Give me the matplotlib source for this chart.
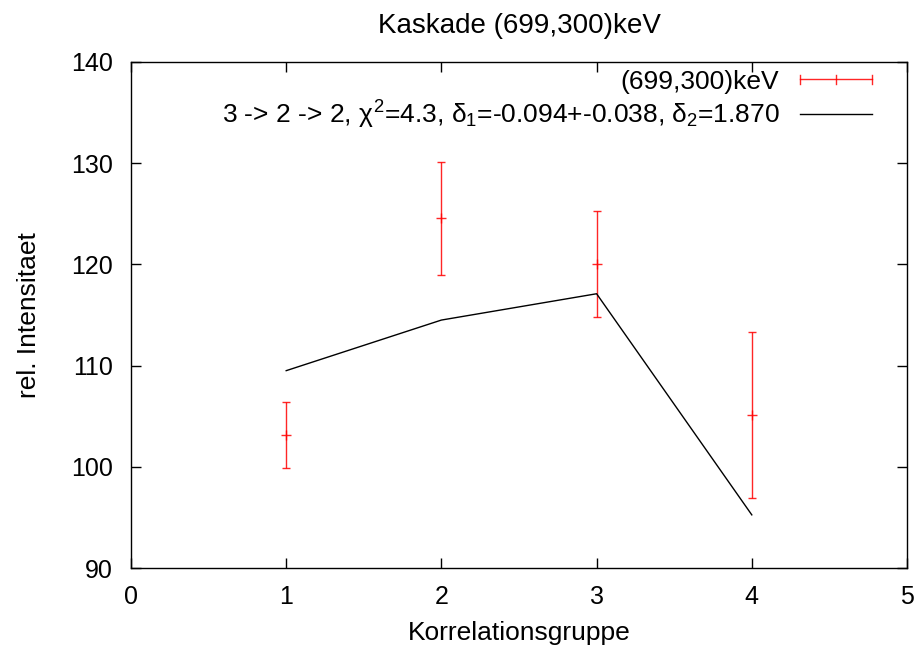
import matplotlib
matplotlib.use("Agg")
import matplotlib.pyplot as plt
from matplotlib.legend_handler import HandlerBase
from matplotlib.lines import Line2D

plt.rcParams['font.family'] = ['Liberation Sans', 'DejaVu Sans']
plt.rcParams['mathtext.fontset'] = 'custom'
plt.rcParams['mathtext.rm'] = 'Liberation Sans'
plt.rcParams['mathtext.it'] = 'Liberation Sans'
plt.rcParams['mathtext.bf'] = 'Liberation Sans'

# data
groups = [1, 2, 3, 4]
intensity = [103.1, 124.6, 120.0, 105.1]
err_low = [99.85, 119.0, 114.8, 96.9]
err_high = [106.4, 130.15, 125.3, 113.3]
fit = [109.5, 114.5, 117.1, 95.25]
xticks = [0, 1, 2, 3, 4, 5]
yticks = [90, 100, 110, 120, 130, 140]

title = "Kaskade (699,300)keV"
label_data = "(699,300)keV"
label_fit = r"3 -> 2 -> 2, $\chi^2$=4.3, $\delta_1$=-0.094+-0.038, $\delta_2$=1.870"

yerr = [[v - lo for v, lo in zip(intensity, err_low)],
        [hi - v for v, hi in zip(intensity, err_high)]]

FS = 19

fig = plt.figure(figsize=(9.17, 6.53), dpi=100)
ax = fig.add_axes([131/917, 1-568/653, (907-131)/917, (568-62)/653])

ax.errorbar(groups, intensity, yerr=yerr, fmt='+', color='red', ecolor='red',
            elinewidth=1, capsize=3, capthick=1, markersize=7, markeredgewidth=1,
            alpha=0.85)
ax.plot(groups, fit, color='black', lw=1)

ax.set_xlim(0, 5)
ax.set_ylim(90, 140)
ax.set_xticks(xticks)
ax.set_yticks(yticks)
ax.tick_params(direction='in', top=True, right=True, length=7, width=1,
               labelsize=18)
ax.tick_params(axis='x', pad=12)
ax.tick_params(axis='y', pad=13)
for s in ax.spines.values():
    s.set_linewidth(1)

ax.set_title(title, fontsize=20, pad=21)
ax.set_xlabel("Korrelationsgruppe", fontsize=FS, labelpad=9)
ax.set_ylabel("rel. Intensitaet", fontsize=FS, labelpad=22)


class ErrKeyHandler(HandlerBase):
    def create_artists(self, legend, orig_handle, xdescent, ydescent,
                       width, height, fontsize, trans):
        y = height / 2 - ydescent
        x0, x1 = -xdescent, width - xdescent
        xm = (x0 + x1) / 2
        h = 3
        arts = [Line2D([x0, x1], [y, y]),
                Line2D([x0, x0], [y - h, y + h]),
                Line2D([x1, x1], [y - h, y + h]),
                Line2D([xm, xm], [y - h, y + h])]
        for a in arts:
            a.set_color('red')
            a.set_linewidth(1)
            a.set_alpha(0.85)
            a.set_transform(trans)
        return arts


h_data = Line2D([], [], color='red')
h_fit = Line2D([], [], color='black', lw=1)
ax.legend([h_data, h_fit], [label_data, label_fit], loc='upper right',
          bbox_to_anchor=(0.955, 0.985),
          markerfirst=False, frameon=False, fontsize=FS, handlelength=2.75,
          handletextpad=0.76, labelspacing=0.2, borderaxespad=0, borderpad=0,
          handler_map={h_data: ErrKeyHandler()})

fig.savefig("out.png", dpi=100)
